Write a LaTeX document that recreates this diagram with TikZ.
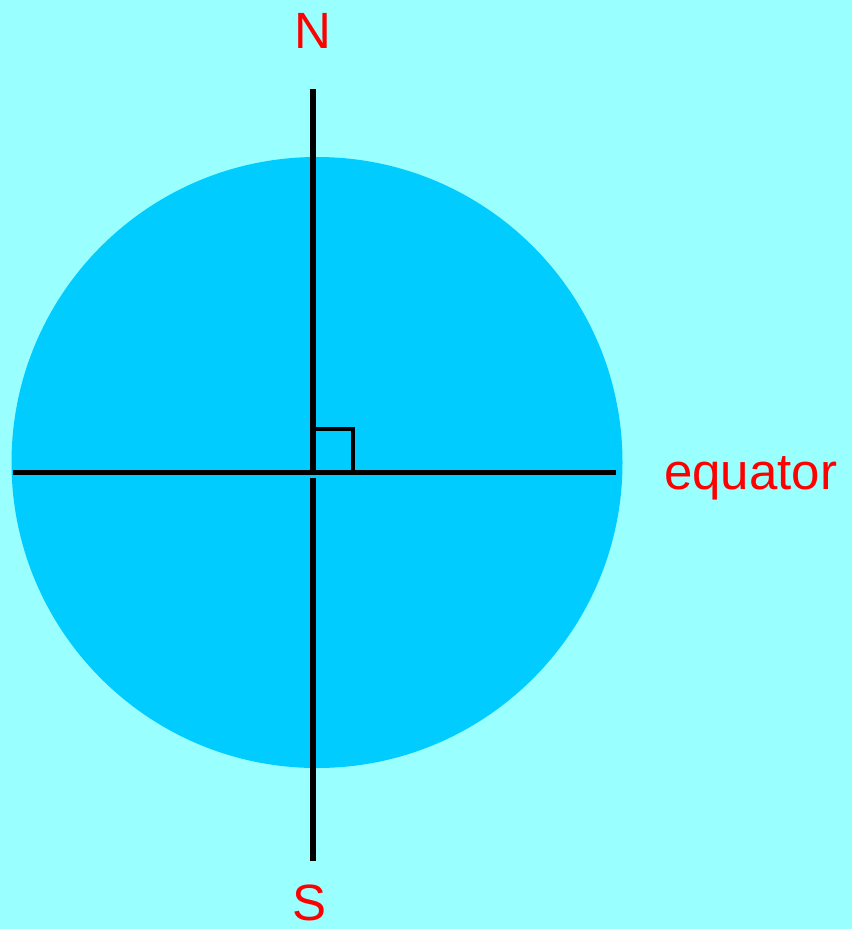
\documentclass[tikz,border=0pt]{standalone}
\usepackage{fontspec}
\setmainfont{Liberation Sans}
\definecolor{bgcyan}{HTML}{99FFFF}
\definecolor{earth}{HTML}{00CCFF}
\definecolor{lbl}{HTML}{FF0000}
\begin{document}
\begin{tikzpicture}[x=1pt,y=-1pt,
  axis/.style={line width=5.5pt,black},
  eqline/.style={line width=5pt,black},
  rightangle/.style={line width=3.2pt,black},
  lab/.style={text=lbl,inner sep=0pt,font=\fontsize{51}{60}\selectfont}]
\fill[bgcyan] (0,0) rectangle (852,929);
\useasboundingbox (0,0) rectangle (852,929);
\fill[earth] (317,462.5) circle (305.5);
\node[lab] (N) at (312.5,31) {N};
\node[lab] (S) at (310,903) {S};
\node[lab,anchor=base west] (eq) at (664,489) {equator};
\coordinate (ntop) at (313,89);
\coordinate (nbot) at (313,474);
\coordinate (stop) at (313,477.5);
\coordinate (sbot) at (313,861);
\coordinate (wend) at (13,472);
\coordinate (eend) at (616,472);
\draw[axis] (ntop) -- (nbot);
\draw[axis] (stop) -- (sbot);
\draw[eqline] (wend) -- (eend);
\draw[rightangle] (313,429) -- (353,429) -- (353,472);
\end{tikzpicture}
\end{document}
